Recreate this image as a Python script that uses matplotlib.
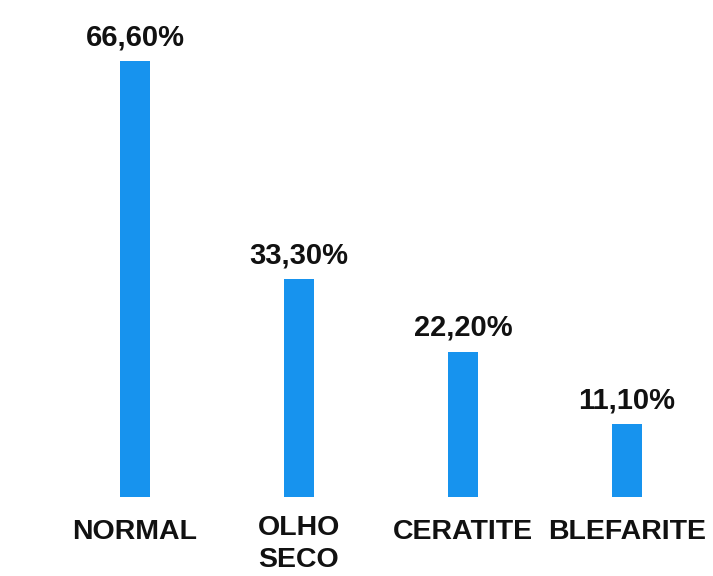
import matplotlib as mpl
mpl.use('Agg')
import matplotlib.pyplot as plt

categories = ['NORMAL', 'OLHO\nSECO', 'CERATITE', 'BLEFARITE']
values = [66.6, 33.3, 22.2, 11.1]
value_labels = ['66,60%', '33,30%', '22,20%', '11,10%']

bar_color = '#1793ee'

fig = plt.figure(figsize=(7.13, 5.76), dpi=100)
ax = fig.add_axes([0, 0, 1, 1])

x = list(range(len(categories)))
ax.bar(x, values, width=0.18, color=bar_color)

# value labels above the bars
for xi, v, lab in zip(x, values, value_labels):
    ax.annotate(lab, (xi, v), xytext=(0, 7), textcoords='offset points',
                ha='center', va='bottom', fontsize=21, fontweight='bold',
                family='Liberation Sans', color='#111111')

# category labels under the bars
for xi, lab in zip(x, categories):
    yoff = -7.1 if '\n' in lab else -5.4
    ax.text(xi, yoff, lab, ha='center', va='center', fontsize=20.5,
            fontweight='bold', family='Liberation Sans', color='#111111',
            linespacing=1.3)

ax.set_xlim(-0.823, 3.524)
ax.set_ylim(-12.06, 75.9)
ax.axis('off')

fig.savefig('out.png', dpi=100, facecolor='white')
